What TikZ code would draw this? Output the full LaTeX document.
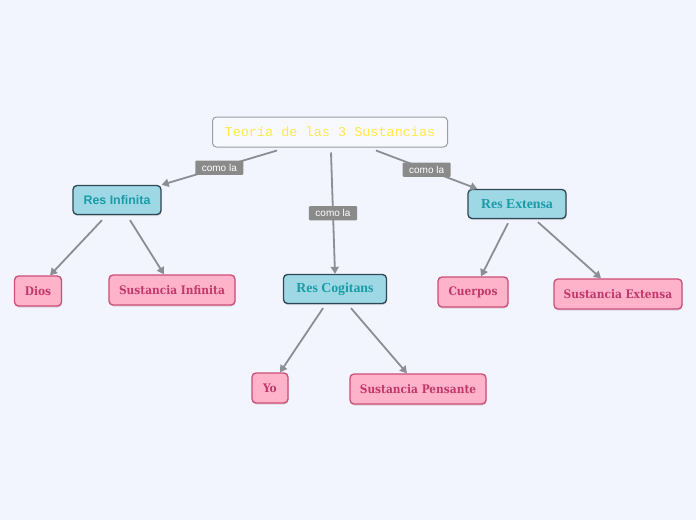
\documentclass[tikz,border=0pt]{standalone}
\usepackage{fontspec}
\setmainfont{Liberation Serif}
\setsansfont{Liberation Sans}
\setmonofont{Liberation Mono}
\newfontfamily\slabfont{DejaVu Serif Condensed}
\usepackage{xcolor}
\usetikzlibrary{arrows.meta, positioning, shadows}

\definecolor{bgcol}{HTML}{F3F5FE}
\definecolor{linecol}{HTML}{8C8E96}
\definecolor{rootline}{HTML}{9A9CA6}
\definecolor{roottext}{HTML}{FFE94A}
\definecolor{resfill}{HTML}{9FD8E5}
\definecolor{resline}{HTML}{2E4756}
\definecolor{restext}{HTML}{1A9BA8}
\definecolor{pinkfill}{HTML}{FFB3CB}
\definecolor{pinkline}{HTML}{CC4D75}
\definecolor{pinktext}{HTML}{C2386A}
\definecolor{lblfill}{HTML}{8A8A8A}

\begin{document}
\begin{tikzpicture}[
  x=1pt, y=-1pt,
  rootbox/.style={rectangle, rounded corners=4pt, draw=rootline, line width=1pt,
                  fill=bgcol!60!white, minimum width=235pt, minimum height=30pt,
                  text=roottext, font=\fontsize{13.5}{15}\ttfamily},
  resbox/.style={rectangle, rounded corners=4pt, draw=resline, line width=1.3pt,
                 fill=resfill, minimum height=29pt, text=restext,
                 drop shadow={shadow xshift=0.5pt, shadow yshift=-1.5pt, opacity=0.25}},
  leaf/.style={rectangle, rounded corners=4pt, draw=pinkline, line width=1.3pt,
               fill=pinkfill, minimum height=30pt, text=pinktext,
               font=\fontsize{11.8}{13}\slabfont\bfseries,
               drop shadow={shadow xshift=0.5pt, shadow yshift=-1.5pt, opacity=0.25}},
  arrow/.style={-{Triangle[length=7pt, width=8pt]}, line width=1.8pt, draw=linecol},
  lbl/.style={fill=lblfill, text=white, rounded corners=1pt, inner xsep=6.5pt,
              inner ysep=3.5pt, font=\fontsize{10}{11}\sffamily}
]

\fill[bgcol] (0,0) rectangle (696,520);
\useasboundingbox (0,0) rectangle (696,520);

% Central topic
\node[rootbox] (root) at (330,132) {Teoría de las 3 Sustancias};

% Main branches
\node[resbox, minimum width=88pt, font=\fontsize{12.4}{14}\sffamily\bfseries]
  (resinf) at (117,200) {Res Infinita};
\node[resbox, minimum width=103pt, font=\fontsize{13.8}{15}\rmfamily\bfseries]
  (rescog) at (335,289) {Res Cogitans};
\node[resbox, minimum width=98pt, font=\fontsize{13.8}{15}\rmfamily\bfseries]
  (resext) at (517,204) {Res Extensa};

% Leaves
\node[leaf, minimum width=47pt]  (dios)   at (38,291)  {Dios};
\node[leaf, minimum width=126pt] (sinf)   at (172,290) {Sustancia Infinita};
\node[leaf, minimum width=36pt]  (yo)     at (270,388) {Yo};
\node[leaf, minimum width=136pt] (spens)  at (418,389) {Sustancia Pensante};
\node[leaf, minimum width=70pt]  (cuerpos) at (473,292) {Cuerpos};
\node[leaf, minimum width=128pt] (sext)   at (618,294) {Sustancia Extensa};

% Topic to branches
\draw[arrow] ([xshift=-53pt, yshift=-3pt]root.south) -- node[lbl]{como la} (resinf.north east);
\draw[arrow] ([xshift=1pt, yshift=-5pt]root.south) -- node[lbl]{como la} (rescog.north);
\draw[arrow] ([xshift=46pt, yshift=-3pt]root.south) -- node[lbl]{como la} ([xshift=10pt]resext.north west);

% Branches to leaves
\draw[arrow] ([xshift=-15pt, yshift=-5pt]resinf.south) -- ([xshift=12pt]dios.north);
\draw[arrow] ([xshift=13pt, yshift=-5pt]resinf.south) -- ([xshift=-8pt]sinf.north);
\draw[arrow] ([xshift=-12pt, yshift=-4pt]rescog.south) -- ([xshift=10pt]yo.north);
\draw[arrow] ([xshift=16pt, yshift=-4pt]rescog.south) -- ([xshift=-11pt]spens.north);
\draw[arrow] ([xshift=-9pt, yshift=-4pt]resext.south) -- ([xshift=8pt]cuerpos.north);
\draw[arrow] ([xshift=21pt, yshift=-3pt]resext.south) -- ([xshift=-17pt]sext.north);

\end{tikzpicture}
\end{document}
